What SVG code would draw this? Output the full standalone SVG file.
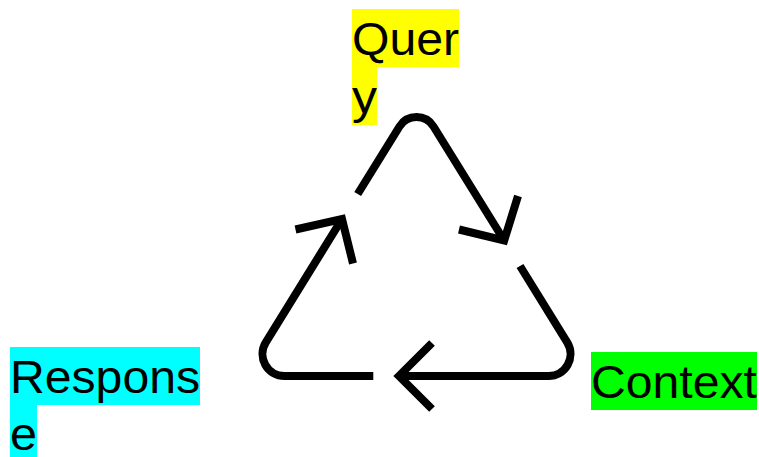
<svg xmlns="http://www.w3.org/2000/svg" width="759" height="457" viewBox="0 0 759 457">
  <style>
    .label { font-family: "Liberation Sans", Arial, sans-serif; font-size: 46px; fill: #000; }
    .seg { fill: none; stroke: #000; stroke-width: 8; stroke-linecap: butt; stroke-linejoin: miter; }
  </style>
  <rect width="759" height="457" fill="#fff"/>

  <!-- cycle: three rounded-triangle segments, each ending in an arrowhead -->
  <g id="connectors">
    <path class="seg" d="M357.7,194 L399.5,126.5 A20,20 0 0 1 433.5,126.5 L504.2,240.5"/>
    <path class="seg" d="M518,196 L504.2,240.5 L459,229.5"/>
    <path class="seg" d="M520,266 L567.2,342.4 A22,22 0 0 1 548.5,376 L399,376"/>
    <path class="seg" d="M432,343 L399,376 L432,409"/>
    <path class="seg" d="M373.3,376 L284.5,376 A22,22 0 0 1 265.8,342.4 L342,219"/>
    <path class="seg" d="M295.5,229.5 L342,219 L353,263.5"/>
  </g>

  <g id="query">
    <rect x="352" y="9" width="107" height="58" fill="#ffff00"/>
    <rect x="352" y="67" width="25" height="58" fill="#ffff00"/>
    <text class="label" x="352" y="54.7" textLength="107" lengthAdjust="spacingAndGlyphs">Quer</text>
    <text class="label" x="352" y="112.7" textLength="25" lengthAdjust="spacingAndGlyphs">y</text>
  </g>

  <g id="context">
    <rect x="591" y="352" width="166" height="58" fill="#00ff00"/>
    <text class="label" x="591" y="397.7" textLength="166" lengthAdjust="spacingAndGlyphs">Context</text>
  </g>

  <g id="response">
    <rect x="10" y="347" width="190" height="58" fill="#00ffff"/>
    <rect x="10" y="405" width="27" height="52" fill="#00ffff"/>
    <text class="label" x="10" y="392.7" textLength="190" lengthAdjust="spacingAndGlyphs">Respons</text>
    <text class="label" x="10" y="450.2" textLength="27" lengthAdjust="spacingAndGlyphs">e</text>
  </g>
</svg>
